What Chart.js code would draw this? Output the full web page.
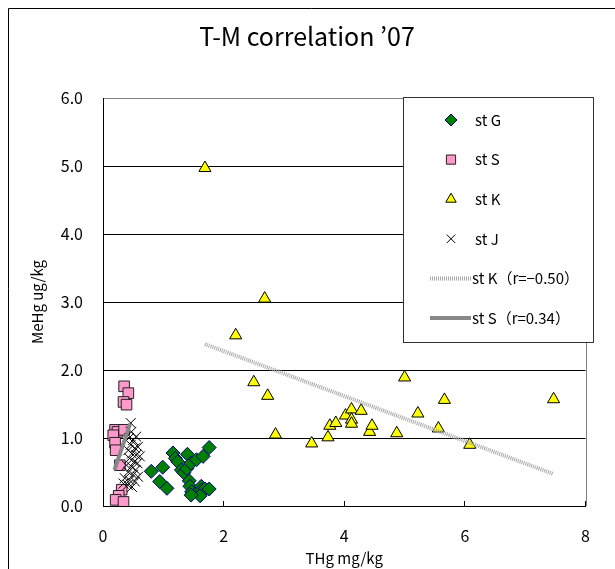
<!DOCTYPE html>
<html>
<head>
<meta charset="utf-8">
<script src="https://cdn.jsdelivr.net/npm/chart.js@4/dist/chart.umd.min.js"></script>
<style>
  html, body { margin: 0; padding: 0; background: #fff; }
  #wrap { width: 615px; height: 569px; }
</style>
</head>
<body>
<div id="wrap"><canvas id="chart" width="615" height="569"></canvas></div>
<script>
// ---- data ----
var chartTitle = "T-M correlation ’07";
var xTitle = "THg mg/kg";
var yTitle = "MeHg ug/kg";
var seriesNames = ["st G", "st S", "st K", "st J", "st K（r=−0.50）", "st S（r=0.34）"];

var xTicks = [0, 2, 4, 6, 8];
var yTicks = [0, 1, 2, 3, 4, 5, 6];

var stGx = [0.80, 0.99, 0.94, 1.06, 1.16, 1.20, 1.24, 1.40, 1.30, 1.34, 1.39, 1.46, 1.55, 1.66, 1.76, 1.43, 1.44, 1.47, 1.57, 1.63, 1.64, 1.69, 1.76, 1.61, 1.46];
var stGy = [0.51, 0.57, 0.36, 0.26, 0.78, 0.70, 0.65, 0.76, 0.53, 0.49, 0.55, 0.63, 0.68, 0.73, 0.86, 0.37, 0.29, 0.21, 0.21, 0.29, 0.24, 0.25, 0.25, 0.15, 0.16];

var stSx = [0.35, 0.42, 0.34, 0.39, 0.20, 0.24, 0.35, 0.17, 0.20, 0.21, 0.28, 0.31, 0.26, 0.21, 0.34];
var stSy = [1.76, 1.66, 1.53, 1.49, 1.12, 1.09, 1.12, 1.04, 0.93, 0.82, 0.60, 0.24, 0.15, 0.09, 0.06];

var stKx = [1.69, 2.20, 2.50, 2.68, 2.73, 2.86, 3.46, 3.73, 3.76, 3.86, 4.02, 4.12, 4.12, 4.12, 4.28, 4.42, 4.46, 4.87, 5.00, 5.22, 5.56, 5.66, 6.08, 7.47];
var stKy = [4.97, 2.51, 1.82, 3.05, 1.62, 1.05, 0.92, 1.01, 1.18, 1.22, 1.33, 1.42, 1.27, 1.21, 1.40, 1.09, 1.18, 1.07, 1.89, 1.36, 1.14, 1.56, 0.90, 1.57];

var stJx = [0.46, 0.47, 0.43, 0.50, 0.46, 0.53, 0.42, 0.48, 0.55, 0.44, 0.52, 0.57, 0.39, 0.47, 0.54, 0.42, 0.50, 0.58, 0.36, 0.44, 0.53, 0.34, 0.41, 0.48, 0.55, 0.58, 0.61];
var stJy = [1.22, 1.09, 1.00, 0.97, 0.90, 0.85, 0.82, 0.77, 0.75, 0.70, 0.65, 0.63, 0.60, 0.58, 0.53, 0.50, 0.46, 0.43, 0.41, 0.38, 0.36, 0.33, 0.31, 0.28, 1.02, 0.87, 0.73];

// trend lines (end points)
var trendKx = [1.69, 7.47];
var trendKy = [2.38, 0.47];
var trendSx = [0.19, 0.45];
var trendSy = [0.53, 1.21];

var fontFamily = "'Noto Sans CJK JP', 'Noto Sans', sans-serif";

function toPoints(xs, ys) {
    var pts = [];
    for (var i = 0; i < xs.length; i++) {
        pts.push({ x: xs[i], y: ys[i] });
    }
    return pts;
}

var dataSet = [
    { label: seriesNames[0], data: toPoints(stGx, stGy), pointStyle: 'rectRot', pointRadius: 7, backgroundColor: '#008000', borderColor: '#000080', borderWidth: 1, order: 4 },
    { label: seriesNames[1], data: toPoints(stSx, stSy), pointStyle: 'rect', pointRadius: 7.5, backgroundColor: '#ff99cc', borderColor: '#222222', borderWidth: 1, order: 3 },
    { label: seriesNames[2], data: toPoints(stKx, stKy), pointStyle: 'triangle', pointRadius: 7, backgroundColor: '#ffff00', borderColor: '#000000', borderWidth: 1, order: 2 },
    { label: seriesNames[3], data: toPoints(stJx, stJy), pointStyle: 'crossRot', pointRadius: 7, backgroundColor: '#000000', borderColor: '#000000', borderWidth: 1, order: 1 },
    { label: seriesNames[4], data: toPoints(trendKx, trendKy), showLine: true, pointRadius: 0, borderColor: '#a8a8a8', borderWidth: 4, borderDash: [1, 1], order: 0 },
    { label: seriesNames[5], data: toPoints(trendSx, trendSy), showLine: true, pointRadius: 0, borderColor: '#888888', borderWidth: 4, order: 0 }
];

/*
----------------------------------
     frame, title and boxed legend
----------------------------------
*/
var decorPlugin = {
    id: 'decor',
    afterDraw: function (chart) {
        var ctx = chart.ctx;
        var a = chart.chartArea;
        ctx.save();

        // outer frame
        ctx.strokeStyle = '#000';
        ctx.lineWidth = 1;
        ctx.beginPath();
        ctx.moveTo(8.5, chart.height);
        ctx.lineTo(8.5, 8.5);
        ctx.lineTo(chart.width, 8.5);
        ctx.stroke();

        // title
        ctx.fillStyle = '#000';
        ctx.font = "25px " + fontFamily;
        ctx.textAlign = 'center';
        ctx.textBaseline = 'middle';
        ctx.fillText(chartTitle, 307, 36);

        // right border of plot area
        ctx.strokeStyle = '#808080';
        ctx.beginPath();
        ctx.moveTo(Math.round(a.right) + 0.5, a.top);
        ctx.lineTo(Math.round(a.right) + 0.5, a.bottom);
        ctx.stroke();

        // legend box
        var bx = 403.5, by = 97.5, bw = 190, bh = 245;
        ctx.fillStyle = '#fff';
        ctx.fillRect(bx, by, bw, bh);
        ctx.strokeStyle = '#333';
        ctx.strokeRect(bx, by, bw, bh);

        var rowY = 120, rowGap = 39.6;
        ctx.font = "15px " + fontFamily;
        ctx.textAlign = 'left';
        chart.data.datasets.forEach(function (ds, i) {
            var y = rowY + i * rowGap;
            if (ds.showLine) {
                ctx.save();
                ctx.strokeStyle = ds.borderColor;
                ctx.lineWidth = ds.borderWidth;
                ctx.setLineDash(ds.borderDash || []);
                ctx.beginPath();
                ctx.moveTo(430, y);
                ctx.lineTo(471, y);
                ctx.stroke();
                ctx.restore();
            } else {
                ctx.save();
                ctx.fillStyle = ds.backgroundColor;
                ctx.strokeStyle = ds.borderColor;
                ctx.lineWidth = ds.borderWidth;
                Chart.helpers.drawPoint(ctx, {
                    pointStyle: ds.pointStyle,
                    radius: ds.pointRadius - 1,
                    rotation: 0,
                    borderWidth: ds.borderWidth
                }, 451, y);
                ctx.restore();
            }
            ctx.fillStyle = '#000';
            ctx.textBaseline = 'middle';
            ctx.fillText(ds.label, ds.showLine ? 472 : 475, y);
        });

        ctx.restore();
    }
};

new Chart(document.getElementById('chart'), {
    type: 'scatter',
    data: { datasets: dataSet },
    plugins: [decorPlugin],
    options: {
        responsive: false,
        animation: false,
        devicePixelRatio: 1,
        layout: { padding: { top: 98, left: 0, right: 21, bottom: 0 } },
        plugins: {
            legend: { display: false },
            tooltip: { enabled: false },
            title: { display: false }
        },
        scales: {
            x: {
                type: 'linear',
                min: xTicks[0],
                max: xTicks[xTicks.length - 1],
                afterBuildTicks: function (scale) {
                    scale.ticks = xTicks.map(function (v) { return { value: v }; });
                },
                afterFit: function (scale) { scale.height = 63; },
                ticks: {
                    color: '#000',
                    padding: 25,
                    font: { family: fontFamily, size: 16 }
                },
                grid: {
                    drawOnChartArea: false,
                    drawTicks: true,
                    tickLength: -5,
                    color: '#000'
                },
                border: { color: '#000', width: 1 },
                title: {
                    display: true,
                    text: xTitle,
                    color: '#000',
                    font: { family: fontFamily, size: 15 },
                    padding: { top: 0, bottom: 2 }
                }
            },
            y: {
                type: 'linear',
                min: yTicks[0],
                max: yTicks[yTicks.length - 1],
                afterBuildTicks: function (scale) {
                    scale.ticks = yTicks.map(function (v) { return { value: v }; });
                },
                afterFit: function (scale) { scale.width = 103; },
                ticks: {
                    color: '#000',
                    padding: 20,
                    font: { family: fontFamily, size: 16 },
                    callback: function (v) { return Number(v).toFixed(1); }
                },
                grid: {
                    drawTicks: false,
                    color: function (c) { return c.tick && c.tick.value === 6 ? '#808080' : '#000'; }
                },
                border: { color: '#000', width: 1 },
                title: {
                    display: true,
                    text: yTitle,
                    color: '#000',
                    font: { family: fontFamily, size: 15 },
                    padding: { top: 28, bottom: 0 }
                }
            }
        }
    }
});
</script>
</body>
</html>
